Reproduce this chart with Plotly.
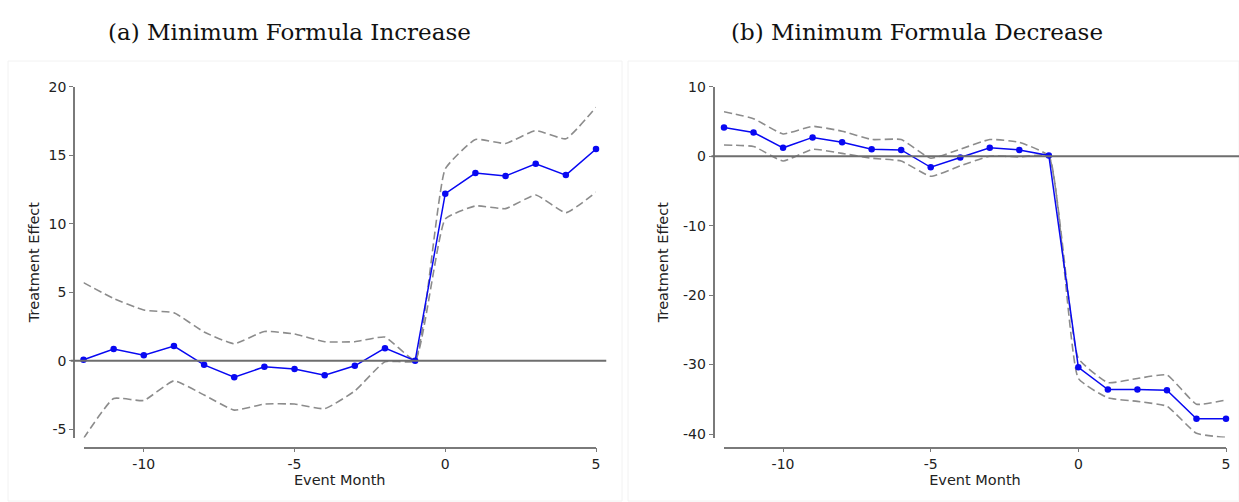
import plotly.graph_objects as go

months = [-12, -11, -10, -9, -8, -7, -6, -5, -4, -3, -2, -1, 0, 1, 2, 3, 4, 5]

inc_est = [0.07, 0.85, 0.4, 1.07, -0.3, -1.2, -0.44, -0.6, -1.05, -0.37, 0.92, 0.0,
           12.19, 13.7, 13.48, 14.38, 13.55, 15.45]
inc_hi = [5.7, 4.55, 3.7, 3.5, 2.1, 1.24, 2.14, 1.95, 1.39, 1.39, 1.73, 0.05,
          14.0, 16.15, 15.86, 16.8, 16.2, 18.5]
inc_lo = [-5.67, -2.75, -2.9, -1.46, -2.5, -3.6, -3.16, -3.16, -3.5, -2.2, -0.07, 0.0,
          10.34, 11.3, 11.1, 12.1, 10.8, 12.3]

dec_est = [4.13, 3.4, 1.2, 2.7, 2.0, 1.0, 0.9, -1.6, -0.2, 1.2, 0.9, 0.1,
           -30.4, -33.6, -33.6, -33.7, -37.8, -37.8]
dec_hi = [6.4, 5.4, 3.2, 4.3, 3.6, 2.4, 2.4, -0.3, 1.0, 2.4, 2.0, 0.0,
          -29.1, -32.6, -32.0, -31.5, -35.7, -35.1]
dec_lo = [1.6, 1.4, -0.7, 1.0, 0.4, -0.3, -0.7, -2.9, -1.4, 0.0, -0.1, 0.0,
          -32.0, -34.8, -35.3, -36.0, -39.9, -40.5]

titles = ["(a) Minimum Formula Increase", "(b) Minimum Formula Decrease"]
x_ticks = [-10, -5, 0, 5]
inc_yticks = [-5, 0, 5, 10, 15, 20]
dec_yticks = [-40, -30, -20, -10, 0, 10]

W, H = 1239, 502
BLUE = "#0808f2"
CI = "#8c8c8c"
SPINE = "#7a7a7a"

fig = go.Figure()

panels = [
    dict(est=inc_est, hi=inc_hi, lo=inc_lo, xa="x", ya="y", yrange=[-5.6, 20], yt=inc_yticks),
    dict(est=dec_est, hi=dec_hi, lo=dec_lo, xa="x2", ya="y2", yrange=[-40.5, 10], yt=dec_yticks),
]

for p in panels:
    for band in (p["hi"], p["lo"]):
        fig.add_trace(go.Scatter(x=months, y=band, mode="lines", xaxis=p["xa"], yaxis=p["ya"],
                                 line=dict(color=CI, width=1.6, dash="8px,4px", shape="spline", smoothing=0.4),
                                 showlegend=False, hoverinfo="skip", cliponaxis=False))
    fig.add_trace(go.Scatter(x=months, y=p["est"], mode="lines+markers", xaxis=p["xa"], yaxis=p["ya"],
                             line=dict(color=BLUE, width=1.5), marker=dict(color=BLUE, size=6.5),
                             showlegend=False, cliponaxis=False))

# pixel helpers
def fx(px):
    return px / W

def fy(py):
    return 1 - py / H

ydom = [fy(437.5), fy(86.7)]
axis_font = dict(family="DejaVu Sans", size=14, color="#222")
title_font = dict(family="DejaVu Sans", size=14.5, color="#222")

common_x = dict(range=[-12, 5], showgrid=False, zeroline=False, showline=True, linecolor=SPINE,
                linewidth=1.6, ticks="outside", ticklen=4, tickcolor=SPINE, tickwidth=1.3,
                tickvals=x_ticks, ticktext=[str(v) for v in x_ticks], tickfont=axis_font,
                title=dict(text="Event Month", font=title_font, standoff=1), anchor="free",
                position=fy(447.5), automargin=False)
common_y = dict(showgrid=False, zeroline=False, showline=True, linecolor=SPINE, linewidth=1.6,
                ticks="outside", ticklen=4, tickcolor=SPINE, tickwidth=1.3, tickfont=axis_font,
                domain=ydom, anchor="free", automargin=False)

fig.update_layout(
    width=W, height=H, plot_bgcolor="white", paper_bgcolor="white",
    margin=dict(l=0, r=0, t=0, b=0, autoexpand=False),
    xaxis=dict(common_x, domain=[fx(83.5), fx(596)]),
    xaxis2=dict(common_x, domain=[fx(724), fx(1226)]),
    yaxis=dict(common_y, range=panels[0]["yrange"], tickvals=inc_yticks,
               ticktext=[str(v) for v in inc_yticks], position=fx(74),
               title=dict(text="Treatment Effect", font=title_font, standoff=4)),
    yaxis2=dict(common_y, range=panels[1]["yrange"], tickvals=dec_yticks,
                ticktext=[str(v) for v in dec_yticks], position=fx(713.5),
                title=dict(text="Treatment Effect", font=title_font, standoff=10)),
)

# zero reference lines
fig.add_shape(type="line", xref="x domain", yref="y", x0=-0.025, x1=1.02, y0=0, y1=0,
              line=dict(color="#6e6e6e", width=2))
fig.add_shape(type="line", xref="x2 domain", yref="y2", x0=-0.025, x1=1.03, y0=0, y1=0,
              line=dict(color="#6e6e6e", width=2))

# faint panel frames
for x0, x1 in [(8, 622), (628, 1239)]:
    fig.add_shape(type="rect", xref="paper", yref="paper", x0=fx(x0), x1=fx(x1), y0=fy(501), y1=fy(61),
                  line=dict(color="#f2f2f2", width=1), layer="below")

for t, cx in zip(titles, [289, 917]):
    fig.add_annotation(text=t, xref="paper", yref="paper", x=fx(cx), y=fy(32), showarrow=False,
                       xanchor="center", yanchor="middle",
                       font=dict(family="DejaVu Serif", size=23, color="#111"))

fig.write_html("out.html", config={"displayModeBar": False},
               post_script="document.body.style.margin='0';")
